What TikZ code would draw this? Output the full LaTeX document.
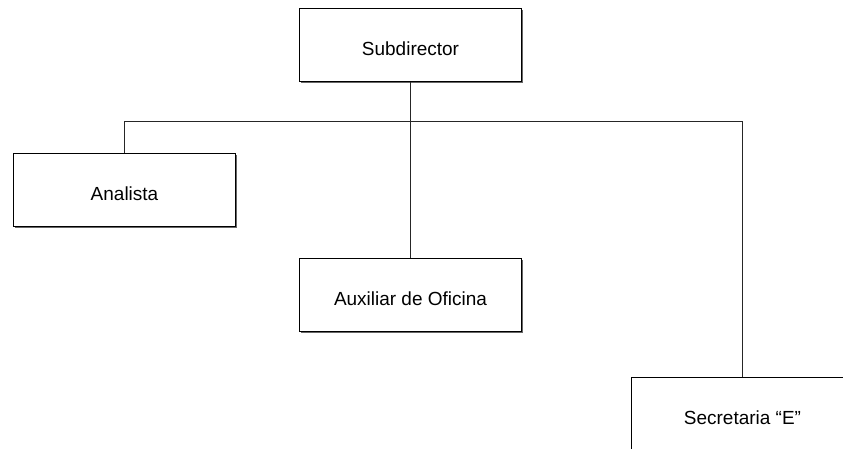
\documentclass[tikz,border=0pt]{standalone}
\usepackage{fontspec}
\setmainfont{Liberation Sans}
\usetikzlibrary{shadows}

\begin{document}
\begin{tikzpicture}[x=0.025cm,y=-0.025cm,
  puesto/.style={draw=black,line width=0.8pt,fill=white,minimum width=5.55cm,minimum height=1.83cm,
    inner sep=0pt,font=\fontsize{13.5}{16}\selectfont,text height=14.6pt,text depth=0pt,
    drop shadow={shadow xshift=0.9pt,shadow yshift=-0.9pt,fill=black!60,opacity=1}},
  linea/.style={draw=black!85,line width=0.6pt}]
\useasboundingbox (0,0) rectangle (843,448);
\node[puesto] (sub) at (410.5,45) {Subdirector};
\node[puesto] (ana) at (124.5,190) {Analista};
\node[puesto] (aux) at (410.5,295) {Auxiliar de Oficina};
\node[puesto] (sec) at (742.5,414) {Secretaria ``E''};
\coordinate (bl) at (124.5,121);
\coordinate (br) at (742.5,121);
\draw[linea] (sub) -- (aux);
\draw[linea] (ana) -- (bl) -- (br) -- (sec);
\end{tikzpicture}
\end{document}
